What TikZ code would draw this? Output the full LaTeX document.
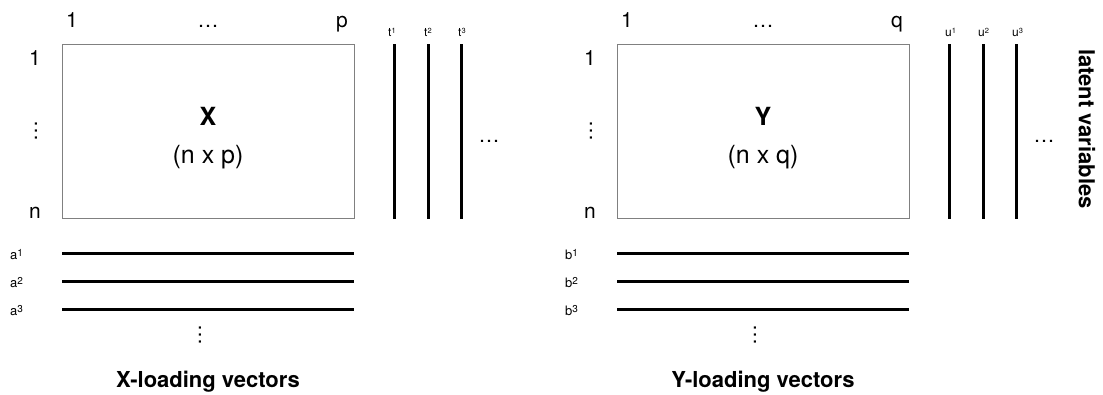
\documentclass[tikz,border=0pt]{standalone}
\usepackage{fontspec}
\setmainfont{TeX Gyre Heros}

% exposants des vecteurs
\newcommand{\supt}[1]{\raisebox{3pt}{\fontsize{7.5}{7.5}\selectfont #1}}
\newcommand{\supa}[1]{\raisebox{2.3pt}{\fontsize{10}{10}\selectfont #1}}

\tikzset{
	matbox/.style={draw=black!50, line width=0.8pt, minimum width=292pt, minimum height=174pt, inner sep=0pt},
	lab/.style={inner sep=0pt, anchor=base, font=\fontsize{21}{21}\selectfont},
	boxlab/.style={inner sep=0pt, anchor=base, font=\fontsize{25}{25}\selectfont},
	tlab/.style={inner sep=0pt, anchor=base west, font=\fontsize{12}{12}\selectfont},
	alab/.style={inner sep=0pt, anchor=base west, font=\fontsize{13}{13}\selectfont},
	title/.style={inner sep=0pt, font=\bfseries\fontsize{22}{22}\selectfont},
	vdots/.style={inner sep=0pt, rotate=90, font=\fontsize{21}{21}\selectfont},
	vec/.style={line width=3pt}
}

\begin{document}
\begin{tikzpicture}[x=1pt,y=-1pt]
	\useasboundingbox (0,0) rectangle (1103,394);

	%matrice X
	\node[matbox] (X) at (208,131) {};
	\node[boxlab, font=\bfseries\fontsize{25}{25}\selectfont] (Xname) at (208,125) {X};
	\node[boxlab] (Xdim) at (208,163) {(n x p)};
	%%% indices
	\node[lab] (Xc1) at (72,27) {1};
	\node[lab] (Xcdots) at (208,27) {…};
	\node[lab] (Xcp) at (342,27) {p};
	\node[lab] (Xr1) at (35,65) {1};
	\node[vdots] (Xrdots) at (36,131) {…};
	\node[lab] (Xrn) at (35,218) {n};
	%%% variables latentes t
	\draw[vec] (394,44) -- (394,219);
	\node[tlab] (t1) at (388,36) {t\supt{1}};
	\draw[vec] (428,44) -- (428,219);
	\node[tlab] (t2) at (424,36) {t\supt{2}};
	\draw[vec] (461,44) -- (461,219);
	\node[tlab] (t3) at (458,36) {t\supt{3}};
	\node[lab] (tdots) at (489,142) {…};
	%%% vecteurs a
	\draw[vec] (62,253) -- (354,253);
	\node[alab] (a1) at (10,259) {a\supa{1}};
	\draw[vec] (62,281) -- (354,281);
	\node[alab] (a2) at (10,287) {a\supa{2}};
	\draw[vec] (62,309) -- (354,309);
	\node[alab] (a3) at (10,315) {a\supa{3}};
	\node[vdots] (adots) at (200,335) {…};
	\node[title, anchor=base] (Xload) at (208,387) {X-loading vectors};

	%matrice Y
	\node[matbox] (Y) at (763,131) {};
	\node[boxlab, font=\bfseries\fontsize{25}{25}\selectfont] (Yname) at (763,125) {Y};
	\node[boxlab] (Ydim) at (763,163) {(n x q)};
	%%% indices
	\node[lab] (Yc1) at (627,27) {1};
	\node[lab] (Ycdots) at (763,27) {…};
	\node[lab] (Ycq) at (897,27) {q};
	\node[lab] (Yr1) at (590,65) {1};
	\node[vdots] (Yrdots) at (591,131) {…};
	\node[lab] (Yrn) at (590,218) {n};
	%%% variables latentes u
	\draw[vec] (949,44) -- (949,219);
	\node[tlab] (u1) at (945,36) {u\supt{1}};
	\draw[vec] (983,44) -- (983,219);
	\node[tlab] (u2) at (978,36) {u\supt{2}};
	\draw[vec] (1016,44) -- (1016,219);
	\node[tlab] (u3) at (1012,36) {u\supt{3}};
	\node[lab] (udots) at (1044,142) {…};
	%%% vecteurs b
	\draw[vec] (617,253) -- (909,253);
	\node[alab] (b1) at (565,259) {b\supa{1}};
	\draw[vec] (617,281) -- (909,281);
	\node[alab] (b2) at (565,287) {b\supa{2}};
	\draw[vec] (617,309) -- (909,309);
	\node[alab] (b3) at (565,315) {b\supa{3}};
	\node[vdots] (bdots) at (755,335) {…};
	\node[title, anchor=base] (Yload) at (763,387) {Y-loading vectors};

	% titre vertical
	\node[title, rotate=-90] (latent) at (1087,129) {latent variables};
\end{tikzpicture}
\end{document}
